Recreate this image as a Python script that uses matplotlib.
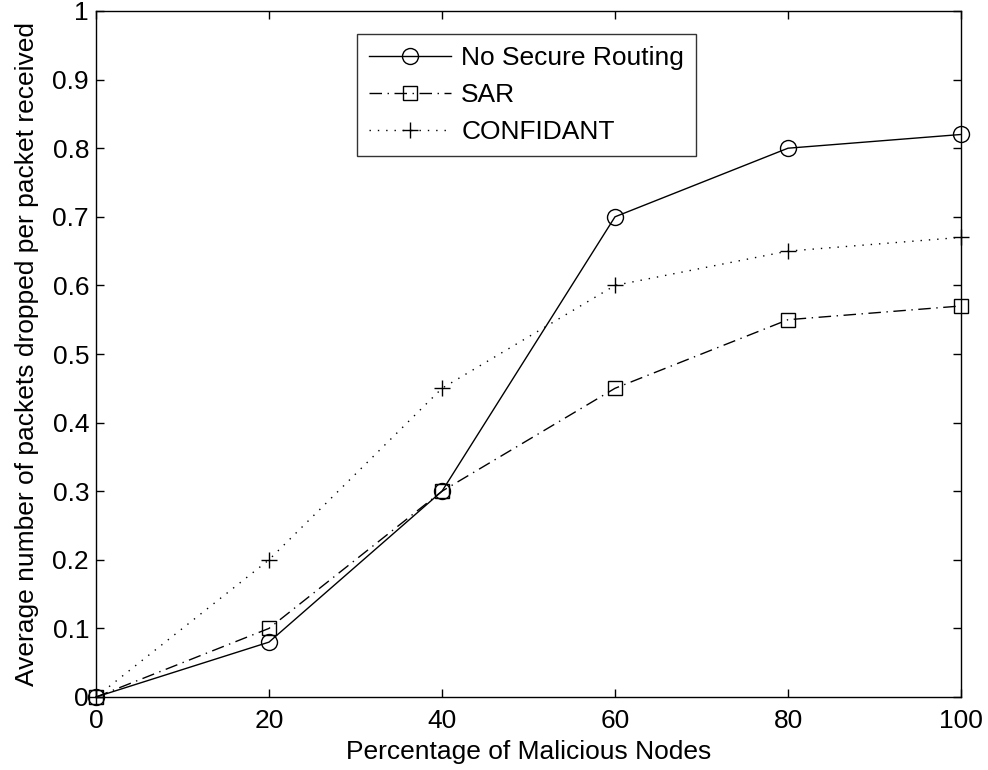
import matplotlib
matplotlib.use("Agg")
import matplotlib.pyplot as plt

x = [0, 20, 40, 60, 80, 100]
no_secure = [0, 0.08, 0.3, 0.7, 0.8, 0.82]
sar = [0, 0.1, 0.3, 0.45, 0.55, 0.57]
confidant = [0, 0.2, 0.45, 0.6, 0.65, 0.67]
xticks = [0, 20, 40, 60, 80, 100]
yticks = [0, 0.1, 0.2, 0.3, 0.4, 0.5, 0.6, 0.7, 0.8, 0.9, 1]

FS = 19
plt.rcParams['font.family'] = ['Liberation Sans', 'DejaVu Sans']
fig = plt.figure(figsize=(9.88, 7.7), dpi=100)
ax = fig.add_axes([96/988, 1-697/770, (961-96)/988, (697-11)/770])

ax.plot(x, no_secure, '-', color='k', lw=1, marker='o', ms=11.5, mfc='none', mec='k', mew=1,
        label='No Secure Routing', clip_on=False)
ax.plot(x, sar, '-.', color='k', lw=1, marker='s', ms=9.5, mfc='none', mec='k', mew=1,
        label='SAR', clip_on=False, dashes=(9, 4, 1, 4))
ax.plot(x, confidant, ':', color='k', lw=1, marker='+', ms=12, mec='k', mew=1,
        label='CONFIDANT', clip_on=False, dashes=(1, 5))

ax.set_xlim(0, 100)
ax.set_ylim(0, 1)
ax.set_xticks(xticks)
ax.set_xticklabels([str(v) for v in xticks])
ax.set_yticks(yticks)
ax.set_yticklabels(['0', '0.1', '0.2', '0.3', '0.4', '0.5', '0.6', '0.7', '0.8', '0.9', '1'])
ax.tick_params(direction='in', length=6, width=1, labelsize=FS, top=True, right=True)
ax.tick_params(axis='x', pad=9)
ax.tick_params(axis='y', pad=5)
for s in ax.spines.values():
    s.set_linewidth(1)
ax.set_xlabel('Percentage of Malicious Nodes', fontsize=FS, labelpad=5)
ax.set_ylabel('Average number of packets dropped per packet received', fontsize=FS, labelpad=10)

leg = ax.legend(loc='upper left', bbox_to_anchor=((357-96)/865, 1-(34-11)/686), fontsize=FS,
                frameon=True, fancybox=False, edgecolor='k', handlelength=3.1,
                borderpad=0.45, labelspacing=0.5, handletextpad=0.4, borderaxespad=0)
leg.get_frame().set_linewidth(1)

fig.savefig('out.png', dpi=100, facecolor='white')
